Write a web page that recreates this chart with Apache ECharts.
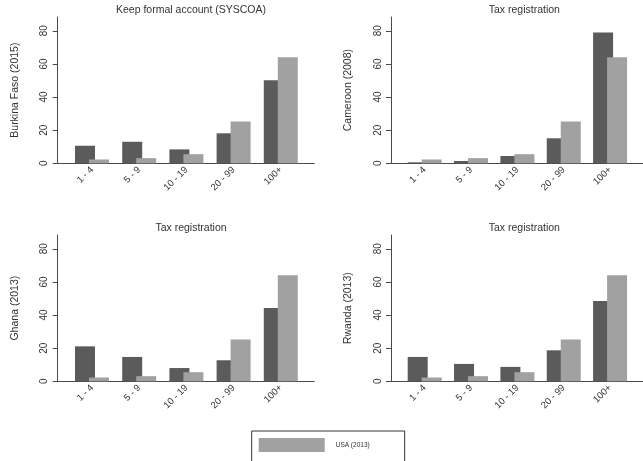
<!DOCTYPE html>
<html>
<head>
<meta charset="utf-8">
<script src="https://cdn.jsdelivr.net/npm/echarts@6/dist/echarts.min.js"></script>
<style>
  html, body { margin: 0; padding: 0; background: #fff; }
  #chart { width: 643px; height: 461px; }
</style>
</head>
<body>
<div id="chart"></div>
<script>
// Firm size classes (number of employees)
const categories = ['1 - 4', '5 - 9', '10 - 19', '20 - 99', '100+'];

// Share of firms (%) by size class
const usa = [2.3, 3.1, 5.5, 25.3, 64.0];
const burkinaFaso = [10.6, 13.0, 8.4, 18.1, 50.1];
const cameroon = [0.6, 1.4, 4.4, 15.1, 79.0];
const ghana = [21.1, 14.7, 8.0, 12.7, 44.2];
const rwanda = [14.7, 10.5, 8.7, 18.7, 48.5];

const panelTitles = ['Keep formal account (SYSCOA)', 'Tax registration', 'Tax registration', 'Tax registration'];
const panelCountries = ['Burkina Faso (2015)', 'Cameroon (2008)', 'Ghana (2013)', 'Rwanda (2013)'];
const panelValues = [burkinaFaso, cameroon, ghana, rwanda];
const usaName = 'USA (2013)';
const yTicks = [0, 20, 40, 60, 80];

const FONT = 'Liberation Sans, Arial, Helvetica, sans-serif';
const AXIS_COLOR = '#4a4a4a';
const TEXT_COLOR = '#333';
const DARK = '#5b5b5b';
const LIGHT = '#a1a1a1';

// panel layout: [left, top] of each plot area
const panelPos = [[57.7, 17], [391, 17], [57.7, 235], [391, 235]];
const plotW = 256.6, plotH = 146.3;

const grids = [], xAxes = [], yAxes = [], series = [], titles = [];
const catPositions = categories.map((c, i) => i + 1);

panelPos.forEach(([l, t], p) => {
  grids.push({ left: l, top: t, width: plotW, height: plotH, containLabel: false });
  titles.push({
    text: panelTitles[p],
    left: l + plotW / 2,
    top: t - 17,
    textAlign: 'center',
    textStyle: { fontFamily: FONT, fontSize: 10.5, fontWeight: 'normal', color: TEXT_COLOR }
  });
  xAxes.push({
    type: 'value', gridIndex: p, min: 0.273, max: 5.71,
    axisLine: { show: true, onZero: false, lineStyle: { color: AXIS_COLOR, width: 1 } },
    axisTick: { show: false },
    splitLine: { show: false },
    axisLabel: {
      customValues: catPositions,
      rotate: 45, margin: 5,
      fontFamily: FONT, fontSize: 9.5, color: TEXT_COLOR,
      formatter: v => categories[Math.round(v) - 1] || ''
    }
  });
  yAxes.push({
    type: 'value', gridIndex: p, min: 0, max: 88.3,
    name: panelCountries[p], nameLocation: 'middle', nameGap: 37, nameRotate: 90,
    nameTextStyle: { fontFamily: FONT, fontSize: 10.5, color: TEXT_COLOR },
    axisLine: { show: true, lineStyle: { color: AXIS_COLOR, width: 1 } },
    axisTick: { show: true, length: 5, customValues: yTicks, lineStyle: { color: AXIS_COLOR } },
    splitLine: { show: false },
    axisLabel: { customValues: yTicks, rotate: 90, margin: 8, fontFamily: FONT, fontSize: 10, color: TEXT_COLOR }
  });
  series.push({
    name: panelCountries[p], type: 'bar', xAxisIndex: p, yAxisIndex: p,
    barWidth: 20, itemStyle: { color: DARK },
    data: panelValues[p].map((v, i) => [catPositions[i], v])
  });
  series.push({
    name: usaName, type: 'bar', xAxisIndex: p, yAxisIndex: p,
    barWidth: 20, barGap: '-30%', itemStyle: { color: LIGHT },
    data: usa.map((v, i) => [catPositions[i], v])
  });
});

const chart = echarts.init(document.getElementById('chart'), null, { renderer: 'canvas' });
chart.setOption({
  backgroundColor: '#fff',
  animation: false,
  title: titles,
  grid: grids,
  xAxis: xAxes,
  yAxis: yAxes,
  series: series,
  legend: {
    data: [usaName],
    left: 251.7, top: 431,
    padding: [7, 35, 20, 7],
    borderColor: '#333', borderWidth: 1,
    icon: 'rect', itemWidth: 66, itemHeight: 14,
    selectedMode: false,
    textStyle: { fontFamily: FONT, fontSize: 6.5, color: TEXT_COLOR, padding: [0, 0, 0, 6] }
  }
});
</script>
</body>
</html>
